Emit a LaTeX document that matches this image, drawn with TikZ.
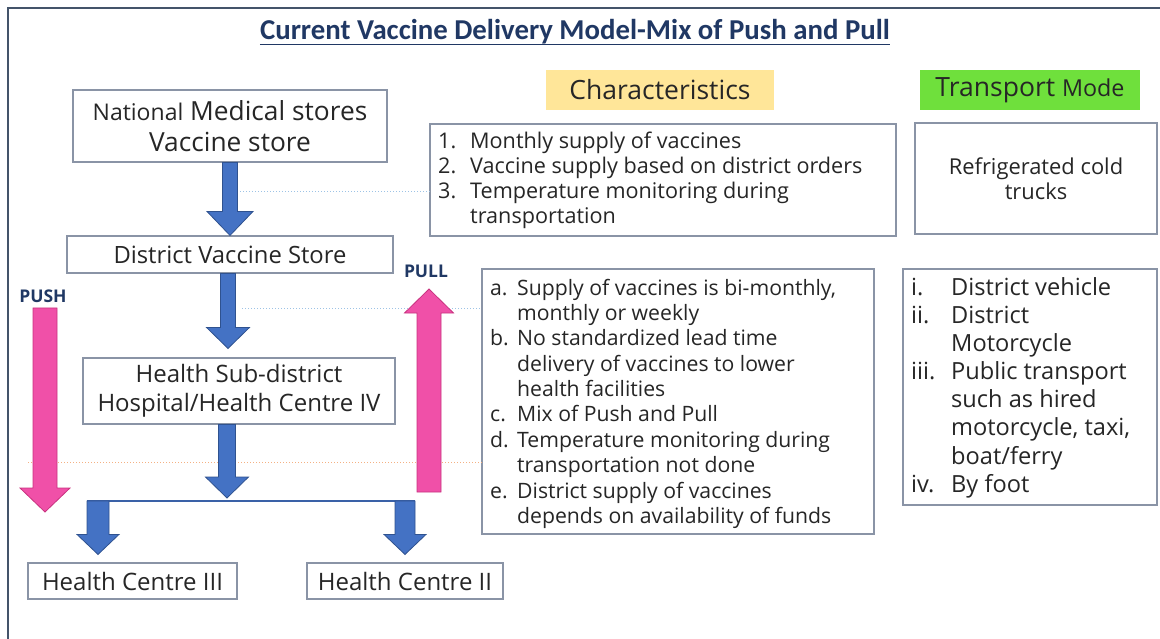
\documentclass[tikz,border=0pt]{standalone}
\usepackage{fontspec}
\setmainfont{Open Sans}
\newfontfamily\titlefont{Carlito}
\usetikzlibrary{calc}
\definecolor{navy}{HTML}{203864}
\definecolor{bluefill}{HTML}{4472C4}
\definecolor{blueline}{HTML}{2F528F}
\definecolor{pinkfill}{HTML}{F050A8}
\definecolor{pinkline}{HTML}{C8327F}
\definecolor{boxline}{HTML}{8A94A6}
\definecolor{frameline}{HTML}{44546A}
\definecolor{charfill}{HTML}{FFE699}
\definecolor{modefill}{HTML}{6FE03C}
\definecolor{dotblue}{HTML}{9DC3E6}
\definecolor{dotorange}{HTML}{F4B183}
\definecolor{txt}{HTML}{262626}
\newcommand\fs[2]{\fontsize{#1}{#2}\selectfont}
\newcommand\barrowdown[6]{\path[#1] let \p1=(#2), \p2=(#3) in (\x1-#4pt,\y1) -- (\x1+#4pt,\y1) -- (\x1+#4pt,\y2+#6pt) -- (\x1+#5pt,\y2+#6pt) -- (\x1,\y2) -- (\x1-#5pt,\y2+#6pt) -- (\x1-#4pt,\y2+#6pt) -- cycle;}
\newcommand\barrowup[6]{\path[#1] let \p1=(#2), \p2=(#3) in (\x1-#4pt,\y1) -- (\x1+#4pt,\y1) -- (\x1+#4pt,\y2-#6pt) -- (\x1+#5pt,\y2-#6pt) -- (\x1,\y2) -- (\x1-#5pt,\y2-#6pt) -- (\x1-#4pt,\y2-#6pt) -- cycle;}
\tikzset{
  box/.style={draw=boxline, line width=1.1pt, fill=white, inner sep=0pt, align=center, text=txt},
  bluearr/.style={fill=bluefill, draw=blueline, line width=0.8pt},
  pinkarr/.style={fill=pinkfill, draw=pinkline, line width=0.8pt},
  dotb/.style={draw=dotblue, dotted, line width=1pt},
  doto/.style={draw=dotorange, dotted, line width=1pt},
  lbl/.style={font=\bfseries\fs{17.5}{20}, text=navy, inner sep=0pt},
  listtext/.style={anchor=base west, inner sep=0pt, text=txt},
}
\begin{document}
\begin{tikzpicture}[x=1pt,y=-1pt]
\useasboundingbox (0,0) rectangle (1160,639);
\draw[frameline, line width=2pt] (8,639) -- (8,8) -- (1160,8);

% title
\node[font=\titlefont\bfseries\fs{28.8}{32}, text=navy, inner sep=0pt, anchor=base] (title) at (575,40) {Current Vaccine Delivery Model-Mix of Push and Pull};
\draw[navy, line width=1.5pt] ([yshift=-4.5pt]title.base west) -- ([yshift=-4.5pt]title.base east);

% headers
\node[fill=charfill, minimum width=228pt, minimum height=40pt, inner sep=0pt, font=\fs{26.5}{30}, text=txt] (chl) at (660,90) {Characteristics};
\node[fill=modefill, minimum width=220pt, minimum height=40pt, inner sep=0pt, text=txt] (tml) at (1030,90) {\fs{26.5}{30}Transport \fs{23.3}{30}Mode};

% boxes for characteristics and dotted guide lines
\node[box, minimum width=466pt, minimum height=112pt] (c1) at (663,180) {};
\node[box, minimum width=392pt, minimum height=265pt] (c2) at (678,401.5) {};
\coordinate (d1) at (240,192);
\coordinate (d2) at (242,309);
\coordinate (d3) at (28,462);
\draw[dotb] (d1) -- (c1.west |- d1);
\draw[dotb] (d2) -- (c2.west |- d2);
\draw[doto] (d3) -- (c2.west |- d3);

% left flow
\node[box, minimum width=314pt, minimum height=72pt, font=\fs{26.3}{31}] (nat) at (230,126) {{\fs{23}{31}National} Medical stores\\Vaccine store};
\node[box, minimum width=326pt, minimum height=37pt, font=\fs{23.8}{28}] (dvs) at (230,254.5) {District Vaccine Store};
\node[box, minimum width=312pt, minimum height=66pt, font=\fs{24}{29}] (sub) at (239,391) {Health Sub-district\\Hospital/Health Centre IV};
\node[box, minimum width=209pt, minimum height=36pt, font=\fs{24}{28}] (hc3) at (132.5,581) {Health Centre III};
\node[box, minimum width=196pt, minimum height=36pt, font=\fs{24}{28}] (hc2) at (405,581) {Health Centre II};

\barrowdown{bluearr}{nat.south}{dvs.north}{7.5}{23}{24}
\barrowdown{bluearr}{[xshift=-2pt]dvs.south}{[yshift=9pt]sub.north}{7.5}{21.5}{21}
\coordinate (jn) at (227,498);
\barrowdown{bluearr}{[xshift=-12pt]sub.south}{jn}{8.5}{21.5}{21}
\coordinate (bl) at (87,501);
\coordinate (br) at (415,501);
\draw[bluefill!85!black, line width=2pt] (bl) -- (br);
\coordinate (a3s) at (98,501);
\coordinate (a2s) at (405,501);
\barrowdown{bluearr}{a3s}{[yshift=8pt]hc3.north}{11}{21}{20}
\barrowdown{bluearr}{a2s}{[yshift=8pt]hc2.north}{10}{21}{20}

% push / pull
\coordinate (pushs) at (45,308);
\coordinate (pushe) at (45,512);
\barrowdown{pinkarr}{pushs}{pushe}{12}{25}{24}
\coordinate (pulls) at (429,492);
\coordinate (pulle) at (429,289);
\barrowup{pinkarr}{pulls}{pulle}{12}{24.5}{24}
\node[lbl] (push) at (43,296) {PUSH};
\node[lbl] (pull) at (426,271) {PULL};

% characteristics text
\node[listtext, font=\fs{21.6}{25}] (c1t) at (438,149) {\begin{tabular}[t]{@{}p{32pt}@{}l@{}}
1.&Monthly supply of vaccines\\
2.&Vaccine supply based on district orders\\
3.&Temperature monitoring during\\
&transportation
\end{tabular}};
\node[listtext, font=\fs{21.2}{25.4}] (c2t) at (490,295) {\begin{tabular}[t]{@{}p{27pt}@{}l@{}}
a.&Supply of vaccines is bi-monthly,\\
&monthly or weekly\\
b.&No standardized lead time\\
&delivery of vaccines to lower\\
&health facilities\\
c.&Mix of Push and Pull\\
d.&Temperature monitoring during\\
&transportation not done\\
e.&District supply of vaccines\\
&depends on availability of funds
\end{tabular}};

% transport mode
\node[box, minimum width=242pt, minimum height=111pt, font=\fs{21.9}{25}] (t1) at (1036,178.5) {Refrigerated cold\\trucks};
\node[box, minimum width=254pt, minimum height=236pt] (t2) at (1030,387) {};
\node[listtext, font=\fs{23.6}{28.2}] (t2t) at (911,295) {\begin{tabular}[t]{@{}p{40pt}@{}l@{}}
i.&District vehicle\\
ii.&District\\
&Motorcycle\\
iii.&Public transport\\
&such as hired\\
&motorcycle, taxi,\\
&boat/ferry\\
iv.&By foot
\end{tabular}};
\end{tikzpicture}
\end{document}
